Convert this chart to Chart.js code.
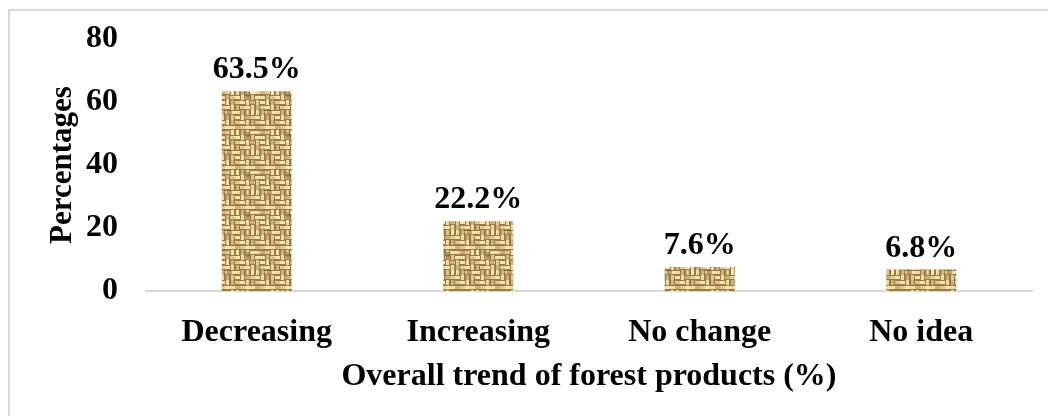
<!DOCTYPE html>
<html>
<head>
<meta charset="utf-8">
<script src="https://cdn.jsdelivr.net/npm/chart.js@4"></script>
<style>
  html, body { margin: 0; padding: 0; background: #fff; }
  #wrap { width: 1048px; height: 416px; }
</style>
</head>
<body>
<div id="wrap"><canvas id="trendChart"></canvas></div>
<script>
// Données
const categories = ['Decreasing', 'Increasing', 'No change', 'No idea'];
const percentages = [63.5, 22.2, 7.6, 6.8];
const valueLabels = ['63.5%', '22.2%', '7.6%', '6.8%'];
const yTicks = [0, 20, 40, 60, 80];

const serif = 'Liberation Serif, Times New Roman, serif';

// Texture toile de jute pour les barres
function makeBurlap() {
    const size = 40, cell = 5;
    const c = document.createElement('canvas');
    c.width = size; c.height = size;
    const g = c.getContext('2d');
    g.fillStyle = '#9a7a45';
    g.fillRect(0, 0, size, size);
    const n = size / cell;
    const tones = ['#f6e6b6', '#e2c891', '#cdb07a', '#f0dca6'];
    for (let i = 0; i < n; i++) {
        for (let j = 0; j < n; j++) {
            const h = ((i * 7 + j * 13 + (i * j) % 5) % 4) < 2;
            g.fillStyle = tones[(i * 3 + j * 5) % 4];
            if (h) g.fillRect(i * cell, j * cell + 1, cell, 3);
            else g.fillRect(i * cell + 1, j * cell, 3, cell);
        }
    }
    // quelques taches sombres
    g.fillStyle = 'rgba(90,65,30,0.35)';
    g.fillRect(6, 12, 4, 6);
    g.fillRect(27, 30, 5, 4);
    return g.createPattern(c, 'repeat');
}

// Cadre gris (haut et gauche)
const framePlugin = {
    id: 'frame',
    beforeDraw(chart) {
        const ctx = chart.ctx;
        ctx.save();
        ctx.strokeStyle = '#d9d9d9';
        ctx.lineWidth = 2;
        ctx.beginPath();
        ctx.moveTo(9, 416);
        ctx.lineTo(9, 10);
        ctx.lineTo(1048, 10);
        ctx.stroke();
        ctx.restore();
    }
};

// Étiquettes au-dessus des barres
const labelPlugin = {
    id: 'valueLabels',
    afterDatasetsDraw(chart) {
        const ctx = chart.ctx;
        ctx.save();
        ctx.font = 'bold 32px ' + serif;
        ctx.fillStyle = '#000';
        ctx.textAlign = 'center';
        ctx.textBaseline = 'alphabetic';
        chart.getDatasetMeta(0).data.forEach((bar, i) => {
            ctx.fillText(valueLabels[i], bar.x, bar.y - 13);
        });
        ctx.restore();
    }
};

const chart = new Chart(document.getElementById('trendChart'), {
    type: 'bar',
    data: {
        labels: categories,
        datasets: [{
            data: percentages,
            backgroundColor: makeBurlap(),
            borderWidth: 0,
            barPercentage: 0.316,
            categoryPercentage: 1
        }]
    },
    options: {
        responsive: true,
        maintainAspectRatio: false,
        animation: false,
        layout: { padding: { left: 40, right: 16, top: 30, bottom: 0 } },
        plugins: {
            legend: { display: false },
            tooltip: { enabled: false }
        },
        scales: {
            x: {
                grid: { display: false },
                border: { display: true, color: '#d9d9d9', width: 2 },
                ticks: {
                    color: '#000',
                    padding: 15,
                    font: { family: serif, size: 32, weight: 'bold' }
                },
                title: {
                    display: true,
                    text: 'Overall trend of forest products (%)',
                    color: '#000',
                    padding: { top: 0, bottom: 20 },
                    font: { family: serif, size: 32, weight: 'bold' }
                },
                afterFit(scale) { scale.height = 125; }
            },
            y: {
                min: 0,
                max: 80,
                grid: { display: false },
                border: { display: false },
                afterBuildTicks(scale) {
                    scale.ticks = yTicks.map(v => ({ value: v }));
                },
                ticks: {
                    color: '#000',
                    padding: 20,
                    font: { family: serif, size: 32, weight: 'bold' }
                },
                title: {
                    display: true,
                    text: 'Percentages',
                    color: '#000',
                    padding: { top: 4, bottom: 0 },
                    font: { family: serif, size: 31, weight: 'bold' }
                },
                afterFit(scale) { scale.width = 106; }
            }
        }
    },
    plugins: [framePlugin, labelPlugin]
});
</script>
</body>
</html>
